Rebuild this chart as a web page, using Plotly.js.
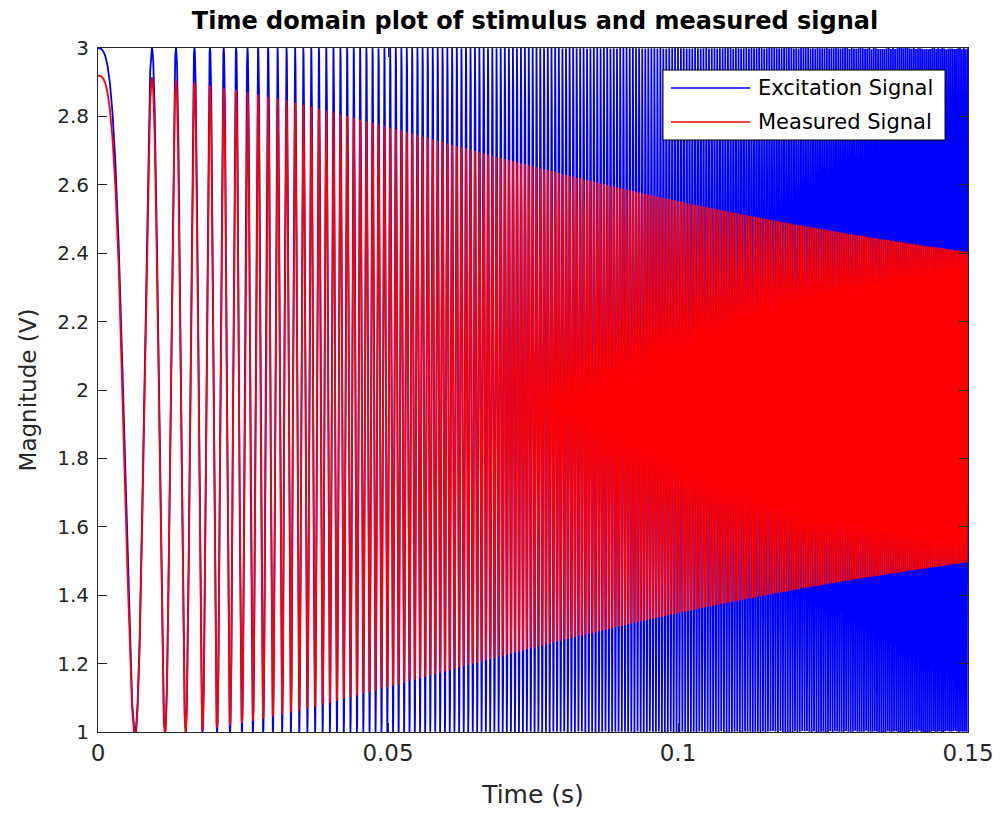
<!DOCTYPE html>
<html>
<head>
<meta charset="utf-8">
<script src="https://cdn.plot.ly/plotly-3.0.1.min.js"></script>
<style>html,body{margin:0;padding:0;background:#fff;}#chart{width:1000px;height:823px;}</style>
</head>
<body>
<div id="chart"></div>
<script>
// Values
var timeSpan = [0, 0.15];            // s, x-axis extent of the recording
var sampleRate = [100000];           // Hz, sampling of the recorded traces
var sweepFreqHz = [15, 3000];        // linear sweep start / end frequency (from peak spacing)
var excitationLevels = [1, 3];       // min / max of the excitation signal (V)
var measuredOffset = [1.95];         // DC level of measured signal (V)
var measuredAmp = [0.97];            // low-frequency amplitude of measured signal (V)
var measuredCornerHz = [1590];       // roll-off corner read from envelope (2.40/1.49 at end)
var seriesNames = ["Excitation Signal", "Measured Signal"];
var seriesColors = ["#0000FF", "#FF0000"];
var xTicks = [0, 0.05, 0.1, 0.15];
var yTicks = [1, 1.2, 1.4, 1.6, 1.8, 2, 2.2, 2.4, 2.6, 2.8, 3];

var t = [], exc = [], meas = [];
var n = Math.round((timeSpan[1] - timeSpan[0]) * sampleRate[0]);
var k = (sweepFreqHz[1] - sweepFreqHz[0]) / (timeSpan[1] - timeSpan[0]);
var excMid = (excitationLevels[0] + excitationLevels[1]) / 2;
var excAmp = (excitationLevels[1] - excitationLevels[0]) / 2;
for (var i = 0; i <= n; i++) {
  var ti = timeSpan[0] + i / sampleRate[0];
  var ph = 2 * Math.PI * (sweepFreqHz[0] * ti + 0.5 * k * ti * ti);
  var f = sweepFreqHz[0] + k * ti;
  var g = 1 / Math.sqrt(1 + Math.pow(f / measuredCornerHz[0], 2));
  t.push(ti);
  exc.push(excMid + excAmp * Math.cos(ph));
  meas.push(measuredOffset[0] + measuredAmp[0] * g * Math.cos(ph));
}

var axColor = '#262626';
var fam = 'DejaVu Sans, Liberation Sans, sans-serif';
var data = [
  {x: t, y: exc, type: 'scatter', mode: 'lines', name: seriesNames[0],
   line: {color: seriesColors[0], width: 1.8}, hoverinfo: 'skip', showlegend: false},
  {x: t, y: meas, type: 'scatter', mode: 'lines', name: seriesNames[1],
   line: {color: seriesColors[1], width: 1.8}, hoverinfo: 'skip', showlegend: false}
];

// legend box drawn in paper coordinates
var lgX0 = 0.6494, lgX1 = 0.9736, lgY0 = 0.8655, lgY1 = 0.9678;
var lgRows = [0.9415, 0.8918];
var shapes = [
  {type: 'rect', xref: 'paper', yref: 'paper', x0: lgX0, x1: lgX1, y0: lgY0, y1: lgY1,
   fillcolor: '#fff', line: {color: '#000', width: 1}, layer: 'above'}
];
var annotations = [];
seriesNames.forEach(function (nm, j) {
  shapes.push({type: 'line', xref: 'paper', yref: 'paper', x0: 0.6586, x1: 0.7494,
               y0: lgRows[j], y1: lgRows[j], line: {color: seriesColors[j], width: 1.5}, layer: 'above'});
  annotations.push({xref: 'paper', yref: 'paper', x: 0.7565, y: lgRows[j], xanchor: 'left',
                    yanchor: 'middle', text: nm, showarrow: false,
                    font: {family: fam, size: 21, color: '#000'}});
});

var layout = {
  width: 1000, height: 823,
  margin: {l: 98, r: 32, t: 48, b: 91},
  paper_bgcolor: '#fff', plot_bgcolor: '#fff',
  font: {family: fam, size: 21, color: axColor},
  title: {text: '<b>Time domain plot of stimulus and measured signal</b>',
          font: {family: fam, size: 24, color: '#000'}, x: 0.535, xanchor: 'center', y: 0.975, yanchor: 'middle'},
  xaxis: {range: timeSpan, tickvals: xTicks, ticktext: xTicks.map(String),
          ticks: 'inside', ticklen: 9, tickcolor: axColor, showgrid: false, zeroline: false,
          showline: true, linecolor: axColor, linewidth: 1, mirror: 'ticks',
          tickfont: {family: fam, size: 23, color: axColor},
          title: {text: 'Time (s)', font: {family: fam, size: 25, color: axColor}, standoff: 20}},
  yaxis: {range: [1, 3], tickvals: yTicks, ticktext: yTicks.map(String),
          ticks: 'inside', ticklen: 9, tickcolor: axColor, showgrid: false, zeroline: false,
          showline: true, linecolor: axColor, linewidth: 1, mirror: 'ticks',
          ticklabelstandoff: 4,
          tickfont: {family: fam, size: 20, color: axColor},
          title: {text: 'Magnitude (V)', font: {family: fam, size: 23, color: axColor}, standoff: 14}},
  showlegend: false,
  shapes: shapes,
  annotations: annotations
};
Plotly.newPlot('chart', data, layout, {staticPlot: true, displayModeBar: false});
</script>
</body>
</html>
